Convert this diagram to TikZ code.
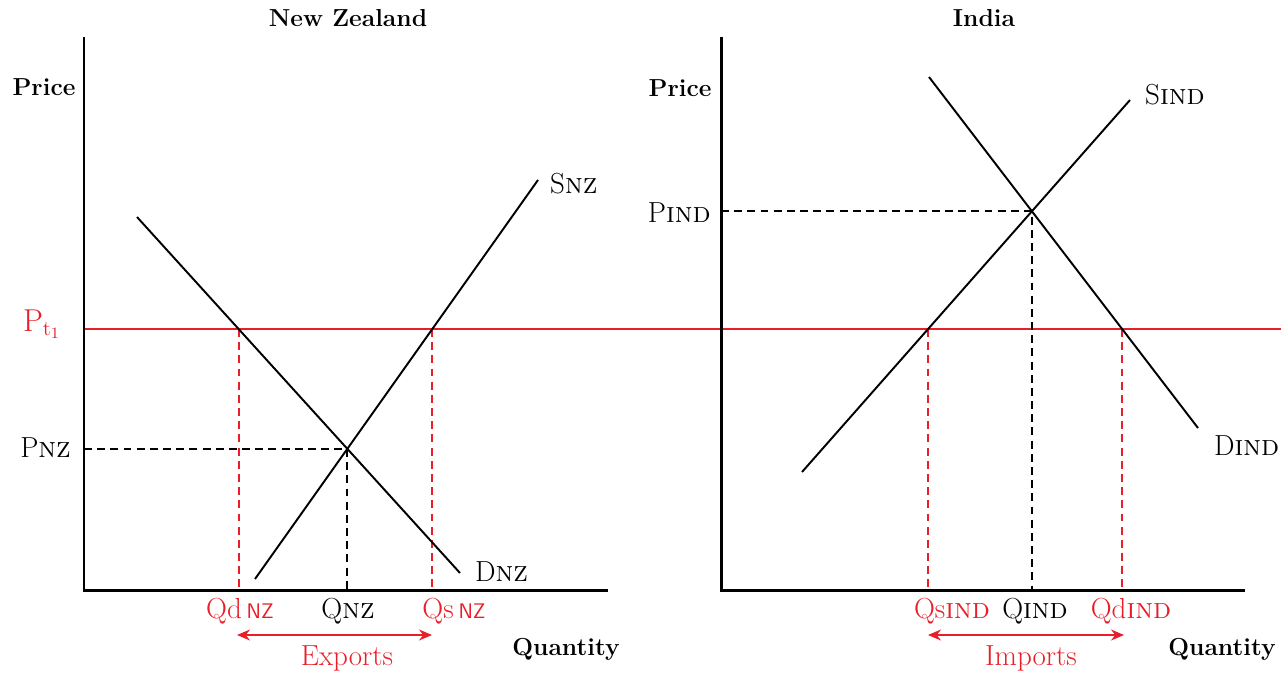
\documentclass[tikz,border=0pt]{standalone}
\usepackage{tikz}
\usetikzlibrary{arrows.meta}
\definecolor{tradered}{RGB}{232, 30, 40}
\tikzset{
  axis/.style={line width=1.7pt},
  curve/.style={line width=1.1pt},
  guide/.style={dash pattern=on 4.5pt off 3pt, line width=1.05pt},
  worldp/.style={draw=tradered, line width=1pt},
  ttl/.style={font=\fontsize{14}{16}\selectfont\bfseries},
  lbl/.style={font=\fontsize{16.5}{19}\selectfont},
  trade/.style={{Stealth[length=2.6mm, width=2.2mm]}-{Stealth[length=2.6mm, width=2.2mm]},
                draw=tradered, line width=1pt},
}
\newcommand{\nzsub}{\,{\sffamily\fontsize{12}{13}\selectfont NZ}}

\begin{document}
\begin{tikzpicture}[x=0.02cm, y=-0.02cm]
  \useasboundingbox (0,0) rectangle (1281,677);

  % world price runs through both markets
  \coordinate (ptl) at (84,329);
  \coordinate (ptr) at (1281,329);
  \draw[worldp] (ptl) -- (ptr);
  \node[lbl, text=tradered, anchor=base east] (ptlbl) at (67,331)
    {\fontsize{18}{20}\selectfont P$_{\mathrm{t}_1}$};

  % ---- New Zealand ----
  \coordinate (onz) at (84,590);
  \coordinate (ynz) at (84,37);
  \coordinate (xnz) at (608,590);
  \coordinate (snz1) at (255,579);
  \coordinate (snz2) at (538,180);
  \coordinate (dnz1) at (137,217);
  \coordinate (dnz2) at (460,573);
  \coordinate (enz) at (intersection of snz1--snz2 and dnz1--dnz2);
  \coordinate (qdnz) at (intersection of ptl--ptr and dnz1--dnz2);
  \coordinate (qsnz) at (intersection of ptl--ptr and snz1--snz2);

  \draw[guide] (enz -| onz) -- (enz) -- (enz |- onz);
  \draw[guide, tradered] (qdnz) -- (qdnz |- onz);
  \draw[guide, tradered] (qsnz) -- (qsnz |- onz);
  \draw[axis] (ynz) -- (onz) -- (xnz);
  \draw[curve] (snz1) -- (snz2);
  \draw[curve] (dnz1) -- (dnz2);

  \node[ttl] (nztitle) at (348,18) {New Zealand};
  \node[ttl] (nzprice) at (44,87) {Price};
  \node[ttl] (nzqty) at (566,649) {Quantity};
  \node[lbl, anchor=base west] (snzlbl) at (544,193) {S\textsc{nz}};
  \node[lbl, anchor=base west] (dnzlbl) at (469,581) {D\textsc{nz}};
  \node[lbl, anchor=base east] (pnzlbl) at (77,457) {P\textsc{nz}};
  \node[lbl, text=tradered, anchor=base] (qdnzlbl) at (240,618) {Qd\nzsub};
  \node[lbl, anchor=base] (qnzlbl) at (348,618) {Q\textsc{nz}};
  \node[lbl, text=tradered, anchor=base] (qsnzlbl) at (454,618) {Qs\nzsub};

  \coordinate (exl) at (237,635);
  \coordinate (exr) at (432,635);
  \draw[trade] (exl) -- (exr);
  \node[lbl, text=tradered] (exlbl) at (347,658) {Exports};

  % ---- India ----
  \coordinate (oin) at (721,590);
  \coordinate (yin) at (721,37);
  \coordinate (xin) at (1245,590);
  \coordinate (sin1) at (802,472);
  \coordinate (sin2) at (1130,100);
  \coordinate (din1) at (929,77);
  \coordinate (din2) at (1198,428);
  \coordinate (ein) at (intersection of sin1--sin2 and din1--din2);
  \coordinate (qsin) at (intersection of ptl--ptr and sin1--sin2);
  \coordinate (qdin) at (intersection of ptl--ptr and din1--din2);

  \draw[guide] (ein -| oin) -- (ein) -- (ein |- oin);
  \draw[guide, tradered] (qsin) -- (qsin |- oin);
  \draw[guide, tradered] (qdin) -- (qdin |- oin);
  \draw[axis] (yin) -- (oin) -- (xin);
  \draw[curve] (sin1) -- (sin2);
  \draw[curve] (din1) -- (din2);

  \node[ttl] (intitle) at (984,18) {India};
  \node[ttl] (inprice) at (680,88) {Price};
  \node[ttl] (inqty) at (1222,649) {Quantity};
  \node[lbl, anchor=base west] (sinlbl) at (1139,104) {S\textsc{ind}};
  \node[lbl, anchor=base west] (dinlbl) at (1208,455) {D\textsc{ind}};
  \node[lbl, anchor=base east] (pinlbl) at (717,222) {P\textsc{ind}};
  \node[lbl, text=tradered, anchor=base] (qsinlbl) at (952,618) {Qs\textsc{ind}};
  \node[lbl, anchor=base] (qinlbl) at (1035,618) {Q\textsc{ind}};
  \node[lbl, text=tradered, anchor=base] (qdinlbl) at (1131,618) {Qd\textsc{ind}};

  \coordinate (iml) at (928,635);
  \coordinate (imr) at (1124,635);
  \draw[trade] (iml) -- (imr);
  \node[lbl, text=tradered] (imlbl) at (1031,658) {Imports};
\end{tikzpicture}
\end{document}
